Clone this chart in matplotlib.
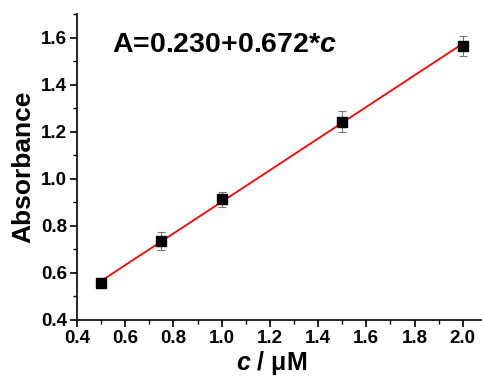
import matplotlib
matplotlib.use("Agg")
import matplotlib.pyplot as plt
import numpy as np
from matplotlib.ticker import MultipleLocator

plt.rcParams['font.family'] = ['Liberation Sans', 'DejaVu Sans']
plt.rcParams['font.weight'] = 'bold'
plt.rcParams['mathtext.fontset'] = 'custom'
plt.rcParams['mathtext.rm'] = 'Liberation Sans:bold'
plt.rcParams['mathtext.it'] = 'Liberation Sans:bold:italic'
plt.rcParams['mathtext.bf'] = 'Liberation Sans:bold'

conc = [0.5, 0.75, 1.0, 1.5, 2.0]
absorb = [0.559, 0.735, 0.912, 1.243, 1.563]
err = [0.02, 0.037, 0.032, 0.043, 0.043]
intercept = 0.230
slope = 0.672

fig = plt.figure(figsize=(4.82, 3.76), dpi=100)
ax = fig.add_axes([77/482, 1-320/376, (482-77)/482, (320-14)/376])

xf = np.array([conc[0], conc[-1]])
ax.plot(xf, intercept + slope * xf, color='#ff0000', lw=1.3, zorder=2)
ax.errorbar(conc, absorb, yerr=err, fmt='s', color='black', ms=6.5,
            ecolor='#777777', elinewidth=0.8, capsize=3, capthick=0.8, zorder=3)

ax.set_xlim(0.4, 2.08)
ax.set_ylim(0.4, 1.7)
ax.xaxis.set_minor_locator(MultipleLocator(0.1))
ax.yaxis.set_minor_locator(MultipleLocator(0.1))
xt = np.arange(0.4, 2.01, 0.2)
yt = np.arange(0.4, 1.61, 0.2)
ax.set_xticks(xt)
ax.set_xticklabels([f"{v:.1f}" for v in xt])
ax.set_yticks(yt)
ax.set_yticklabels([f"{v:.1f}" for v in yt])

for s in ['top', 'right']:
    ax.spines[s].set_visible(False)
for s in ['left', 'bottom']:
    ax.spines[s].set_linewidth(1.2)
ax.tick_params(which='major', direction='out', length=5, width=1.2, labelsize=13.5, pad=2)
ax.tick_params(which='minor', direction='out', length=3, width=1.0)

ax.set_xlabel(r'$c$ / μM', fontsize=18, fontweight='bold')
ax.xaxis.set_label_coords(0.48, -0.095, transform=ax.transAxes)
ax.xaxis.label.set_va('top')
ax.set_ylabel('Absorbance', fontsize=19, fontweight='bold', labelpad=4)
ax.text(0.086, 0.9, r'A=0.230+0.672*$c$', transform=ax.transAxes, fontsize=20.5,
        fontweight='bold', va='center')
fig.savefig('out.png', dpi=100)
